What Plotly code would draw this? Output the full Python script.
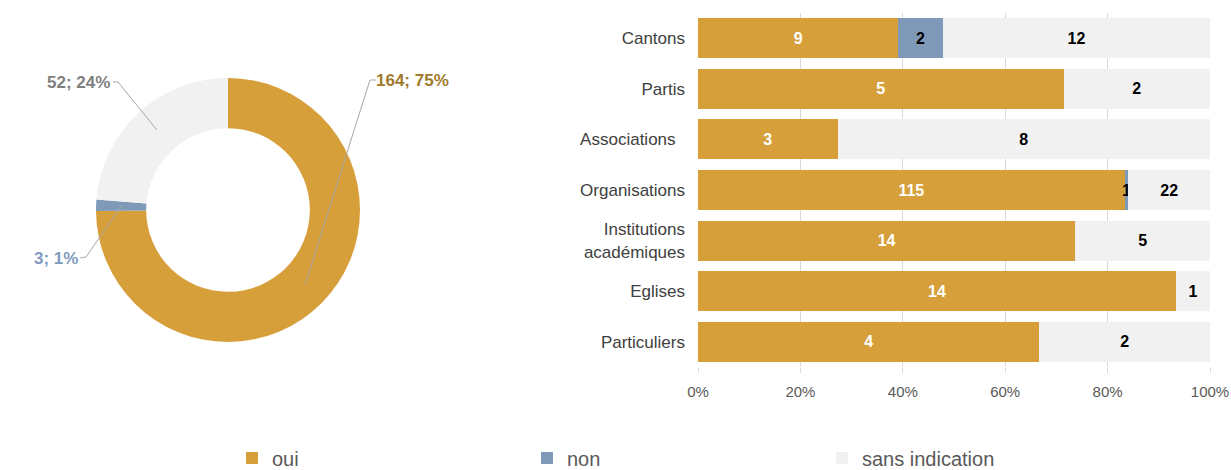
import plotly.graph_objects as go

# données
categories = ["Cantons", "Partis", "Associations\u00a0\u00a0", "Organisations",
              "Institutions<br>académiques", "Eglises", "Particuliers"]
oui = [9, 5, 3, 115, 14, 14, 4]
non = [2, 0, 0, 1, 0, 0, 0]
sans = [12, 2, 8, 22, 5, 1, 2]

pie_labels = ["oui", "non", "sans indication"]
pie_values = [164, 3, 52]
pie_pct = [75, 1, 24]

colors = {"oui": "#D69F3A", "non": "#7F9AB8", "sans indication": "#F1F1F1"}
W, H = 1231, 470


def px(x, y):
    # pixel -> paper
    return x / W, 1 - y / H


fig = go.Figure()

fig.add_trace(go.Pie(
    labels=pie_labels, values=pie_values, hole=0.62, sort=False,
    direction="clockwise", rotation=0, textinfo="none",
    marker=dict(colors=[colors[l] for l in pie_labels], line=dict(width=0)),
    domain=dict(x=[96 / W, 360 / W], y=[1 - 342 / H, 1 - 78 / H]),
    showlegend=False,
))

series = [("oui", oui, "white"), ("non", non, "black"), ("sans indication", sans, "black")]
for name, vals, tcol in series:
    fig.add_trace(go.Bar(
        y=categories, x=vals, name=name, orientation="h",
        marker=dict(color=colors[name], line=dict(width=0)),
        text=[str(v) if v else "" for v in vals],
        textposition="inside", insidetextanchor="middle", constraintext="none",
        textfont=dict(family="Liberation Sans", size=16, color=tcol, weight="bold"),
        hoverinfo="skip",
    ))

# étiquettes du donut avec lignes de rappel
label_cols = ["#A07A2C", "#7F9AC0", "#7F7F7F"]
label_pos = [(374, 80, "left"), (80, 258, "right"), (112, 82, "right")]
leaders = [
    "M{0},{1} L{2},{3} L{4},{5}".format(*px(376, 80), *px(370, 80), *px(305, 285)),
    "M{0},{1} L{2},{3} L{4},{5}".format(*px(80, 258), *px(86, 257), *px(122, 205)),
    "M{0},{1} L{2},{3} L{4},{5}".format(*px(113, 82), *px(118, 82), *px(157, 130)),
]
shapes = []
for (lx, ly, anc), lab_i, path in zip(label_pos, [0, 1, 2], leaders):
    ax, ay = px(lx, ly)
    fig.add_annotation(
        x=ax, y=ay, xref="paper", yref="paper", showarrow=False,
        text=f"<b>{pie_values[lab_i]}; {pie_pct[lab_i]}%</b>",
        xanchor=anc, yanchor="middle",
        font=dict(family="Liberation Sans", size=17, color=label_cols[lab_i]),
    )
    shapes.append(dict(type="path", path=path, xref="paper", yref="paper",
                       line=dict(color="#A6A6A6", width=1)))

fig.update_layout(
    width=W, height=H,
    margin=dict(l=0, r=0, t=0, b=0, autoexpand=False),
    paper_bgcolor="white", plot_bgcolor="white",
    barmode="stack", barnorm="percent", bargap=0.21,
    font=dict(family="Liberation Sans", color="#404040"),
    shapes=shapes,
    xaxis=dict(domain=[698 / W, 1210 / W], range=[0, 100], ticksuffix="%",
               dtick=20, showgrid=True, gridcolor="#D9D9D9", zeroline=False,
               automargin=False, ticks="outside", ticklen=5, tickcolor="#D9D9D9",
               ticklabelstandoff=6,
               tickfont=dict(size=15, color="#595959"), fixedrange=True),
    yaxis=dict(domain=[1 - 367 / H, 1 - 13 / H], autorange="reversed",
               automargin=False, fixedrange=True,
               ticklabelstandoff=12, tickfont=dict(size=17, color="#404040"),
               showgrid=False),
    legend=dict(orientation="h", x=232 / W, y=1 - 458 / H, xanchor="left",
                yanchor="middle", entrywidth=250, entrywidthmode="pixels",
                font=dict(size=20, color="#595959"), traceorder="normal"),
)

fig.write_html("out.html", config={"displayModeBar": False},
               post_script="document.body.style.margin='0';")
